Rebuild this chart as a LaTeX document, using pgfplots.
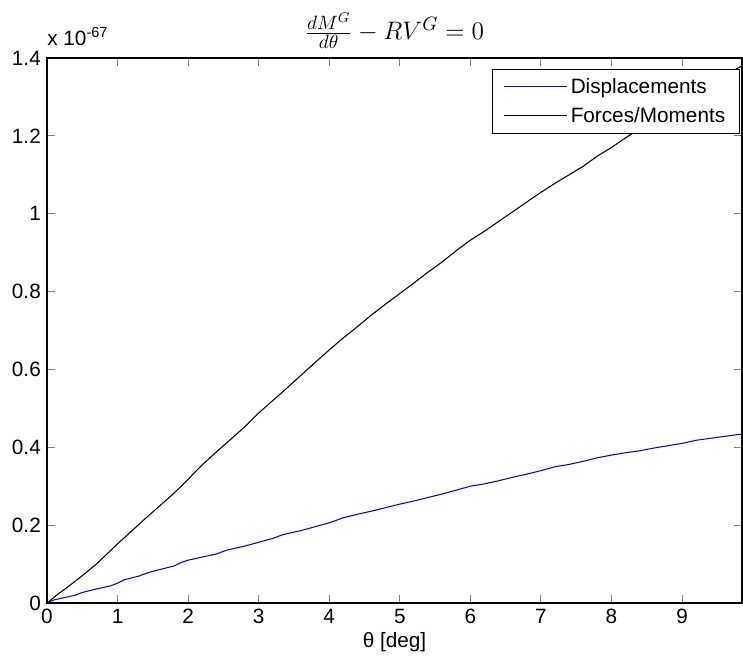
\documentclass[border=0pt]{standalone}
\usepackage{fontspec}
\setmainfont{Liberation Sans}
\usepackage{pgfplots}
\pgfplotsset{compat=1.18}
\usetikzlibrary{calc}
\definecolor{mblue}{RGB}{0,0,255}
\newcommand{\ml}{\fontsize{11.8}{14}\selectfont}

\begin{document}
\begin{tikzpicture}
\begin{axis}[
  name=ax,
  width=13.9cm, height=10.9cm, scale only axis,
  xmin=0, xmax=9.85, ymin=0, ymax=1.4,
  xtick={0,1,...,9}, ytick={0,0.2,...,1.4},
  yticklabel style={/pgf/number format/fixed,/pgf/number format/precision=1},
  /pgf/number format/assume math mode=true,
  tick label style={font=\ml},
  label style={font=\ml},
  tick align=inside, major tick length=0.16cm,
  xtick pos=both, ytick pos=both,
  axis line style={line width=0.6pt},
  major tick style={line width=0.5pt},
  xlabel={θ [deg]},
  xlabel style={yshift=2pt},
  title={$\frac{dM^G}{d\theta}-RV^G=0$},
  title style={font=\fontsize{15.6}{17}\selectfont, at={(0.5,1)}, anchor=center, yshift=0.34cm},
  legend style={at={(rel axis cs:0.9965,0.98)}, anchor=north east,
    font=\ml, inner xsep=6pt, inner ysep=3pt, row sep=2.5pt,
    nodes={inner sep=2pt}, cells={anchor=west}},
  legend image post style={xscale=2.1},
  legend cell align=left,
  clip mode=individual,
]
\addplot[color=mblue, line width=0.6pt] coordinates {
 (0,0) (0.1,0.008) (0.25,0.014) (0.4,0.02) (0.5,0.027) (0.7,0.036) (0.9,0.044) (1.0,0.051)
 (1.1,0.06) (1.3,0.069) (1.45,0.079) (1.6,0.086) (1.8,0.095) (1.9,0.104) (2.0,0.110)
 (2.2,0.118) (2.4,0.126) (2.55,0.136) (2.8,0.146) (3.0,0.156) (3.2,0.166) (3.35,0.176)
 (3.6,0.186) (3.8,0.196) (4.0,0.206) (4.2,0.219) (4.4,0.228) (4.6,0.236) (4.8,0.245)
 (5.0,0.254) (5.2,0.262) (5.4,0.271) (5.6,0.280) (5.8,0.290) (6.0,0.300) (6.2,0.306)
 (6.4,0.314) (6.6,0.323) (6.8,0.331) (7.0,0.340) (7.2,0.350) (7.4,0.356) (7.6,0.364)
 (7.8,0.373) (8.0,0.380) (8.2,0.386) (8.4,0.391) (8.6,0.398) (8.8,0.404) (9.0,0.410)
 (9.2,0.418) (9.4,0.423) (9.6,0.428) (9.85,0.434)
};
\addplot[color=black, line width=0.6pt] coordinates {
 (0,0) (0.15,0.022) (0.3,0.042) (0.5,0.07) (0.7,0.10) (0.85,0.126) (1.0,0.152)
 (1.2,0.185) (1.4,0.218) (1.6,0.25) (1.8,0.282) (2.0,0.318) (2.2,0.355) (2.4,0.388)
 (2.6,0.42) (2.8,0.452) (3.0,0.488) (3.2,0.52) (3.4,0.552) (3.6,0.585) (3.8,0.618)
 (4.0,0.65) (4.2,0.681) (4.4,0.71) (4.6,0.74) (4.8,0.768) (5.0,0.795) (5.2,0.822)
 (5.4,0.85) (5.6,0.876) (5.8,0.905) (6.0,0.932) (6.2,0.955) (6.4,0.98) (6.6,1.005)
 (6.8,1.03) (7.0,1.055) (7.2,1.078) (7.4,1.10) (7.6,1.122) (7.8,1.148) (8.0,1.17)
 (8.2,1.195) (8.5,1.23) (9.0,1.29) (9.5,1.345) (9.85,1.38)
};
\legend{Displacements,Forces/Moments}
\node[anchor=base west, font=\ml, inner sep=0pt] at ([yshift=0.26cm]rel axis cs:0,1) {x 10\textsuperscript{-67}};
\end{axis}
\pgfresetboundingbox
\path[use as bounding box] ($(ax.south west)+(-0.94cm,-1.3cm)$) rectangle ($(ax.north east)+(0.02cm,1.16cm)$);
\end{tikzpicture}
\end{document}
